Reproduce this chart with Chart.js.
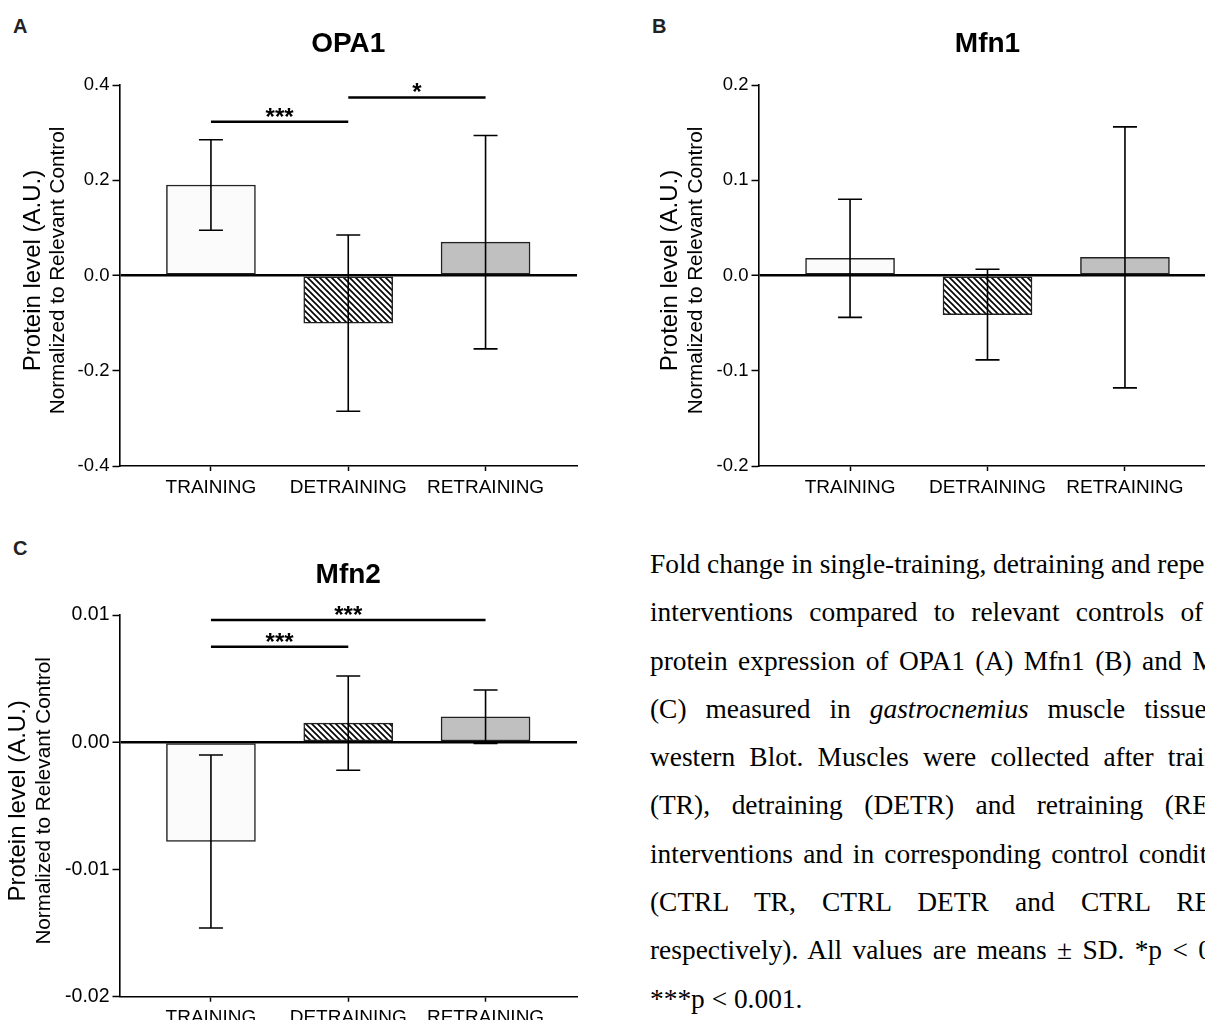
<!DOCTYPE html>
<html>
<head>
<meta charset="utf-8">
<title>OPA1 / Mfn1 / Mfn2</title>
<script src="https://cdn.jsdelivr.net/npm/chart.js@4.4.1/dist/chart.umd.min.js"></script>
<style>
  html, body { margin: 0; padding: 0; background: #fff; }
  body { width: 1205px; height: 1020px; overflow: hidden; position: relative;
         font-family: 'Liberation Sans', Arial, sans-serif; }
  canvas { position: absolute; }
  .letter { position: absolute; font-weight: bold; font-size: 20px; line-height: 20px; color: #222; }
  #caption { position: absolute; left: 650px; top: 540px; width: 603px;
             font-family: 'Liberation Serif', 'Times New Roman', serif;
             font-size: 27.4px; line-height: 48.3px; color: #000; }
  #caption div { text-align: justify; text-align-last: justify; }
  #caption div.ov { white-space: nowrap; }
  #caption div.last { text-align: left; text-align-last: left; }
</style>
</head>
<body>

<div class="letter" style="left:13px; top:16px;">A</div>
<div class="letter" style="left:652px; top:16px;">B</div>
<div class="letter" style="left:13px; top:538px;">C</div>

<canvas id="opa1" width="600" height="520" style="left:0; top:0;"></canvas>
<canvas id="mfn1" width="640" height="520" style="left:600px; top:0;"></canvas>
<canvas id="mfn2" width="600" height="520" style="left:0; top:520px;"></canvas>

<div id="caption">
  <div class="ov">Fold change in single-training, detraining and repeated-training</div>
  <div>interventions compared to relevant controls of the</div>
  <div>protein expression of OPA1 (A) Mfn1 (B) and Mfn2</div>
  <div>(C) measured in <i>gastrocnemius</i> muscle tissue by</div>
  <div>western Blot. Muscles were collected after training</div>
  <div>(TR), detraining (DETR) and retraining (RETR)</div>
  <div>interventions and in corresponding control conditions</div>
  <div>(CTRL TR, CTRL DETR and CTRL RETR,</div>
  <div>respectively). All values are means ± SD. *p &lt; 0.05,</div>
  <div class="last">***p &lt; 0.001.</div>
</div>

<script>
var categories = ['TRAINING', 'DETRAINING', 'RETRAINING'];

// means and SD
var opa1Means = [0.19, -0.10, 0.07];
var opa1Sd = [0.095, 0.185, 0.224];
var mfn1Means = [0.018, -0.041, 0.019];
var mfn1Sd = [0.062, 0.0476, 0.137];
var mfn2Means = [-0.0078, 0.0015, 0.002];
var mfn2Sd = [0.0068, 0.0037, 0.0021];

// y ticks
var opa1Ticks = [-0.4, -0.2, 0, 0.2, 0.4];
var mfn1Ticks = [-0.2, -0.1, 0, 0.1, 0.2];
var mfn2Ticks = [-0.02, -0.01, 0, 0.01];

// significance bars: [from, to, height, stars]
var opa1Sig = [[0, 1, 0.323, '***'], [1, 2, 0.374, '*']];
var mfn1Sig = [];
var mfn2Sig = [[0, 1, 0.0075, '***'], [0, 2, 0.0096, '***']];

Chart.defaults.font.family = "'Liberation Sans', Arial, sans-serif";
Chart.defaults.color = '#000';

function hatch() {
    var c = document.createElement('canvas');
    c.width = 6; c.height = 6;
    var g = c.getContext('2d');
    g.fillStyle = '#fff';
    g.fillRect(0, 0, 6, 6);
    g.strokeStyle = '#000';
    g.lineWidth = 1.6;
    g.beginPath();
    g.moveTo(-1, -1); g.lineTo(7, 7);
    g.moveTo(-1, 5); g.lineTo(1, 7);
    g.moveTo(5, -1); g.lineTo(7, 1);
    g.stroke();
    return g.createPattern(c, 'repeat');
}

function fmt(v, dec) {
    if (Math.abs(v) < 1e-12) v = 0;
    return v.toFixed(dec);
}

function makeChart(id, cfg) {
    var decor = {
        id: 'decor',
        afterDatasetsDraw: function(chart) {
            var ctx = chart.ctx, a = chart.chartArea;
            var xs = chart.scales.x, ys = chart.scales.y;
            ctx.save();
            // error bars
            ctx.strokeStyle = '#000';
            ctx.lineWidth = 1.6;
            cfg.means.forEach(function(m, i) {
                var x = xs.getPixelForValue(i);
                var t = ys.getPixelForValue(m + cfg.sd[i]);
                var b = ys.getPixelForValue(m - cfg.sd[i]);
                ctx.beginPath();
                ctx.moveTo(x, t); ctx.lineTo(x, b);
                ctx.moveTo(x - 12, t); ctx.lineTo(x + 12, t);
                ctx.moveTo(x - 12, b); ctx.lineTo(x + 12, b);
                ctx.stroke();
            });
            // significance
            ctx.lineWidth = 2.5;
            ctx.font = 'bold 24px ' + Chart.defaults.font.family;
            ctx.textAlign = 'center';
            ctx.textBaseline = 'alphabetic';
            ctx.fillStyle = '#000';
            cfg.sig.forEach(function(s) {
                var x1 = xs.getPixelForValue(s[0]), x2 = xs.getPixelForValue(s[1]);
                var y = ys.getPixelForValue(s[2]);
                ctx.beginPath();
                ctx.moveTo(x1, y); ctx.lineTo(x2, y);
                ctx.stroke();
                ctx.fillText(s[3], (x1 + x2) / 2, y + 3);
            });
            // title
            ctx.font = 'bold 28px ' + Chart.defaults.font.family;
            ctx.fillText(cfg.title, (a.left + a.right) / 2, cfg.titleY);
            // y axis titles
            var yc = (a.top + a.bottom) / 2 - 5;
            ctx.textBaseline = 'middle';
            ctx.save();
            ctx.translate(cfg.t1x, yc);
            ctx.rotate(-Math.PI / 2);
            ctx.font = '24px ' + Chart.defaults.font.family;
            ctx.fillText('Protein level (A.U.)', 0, 0);
            ctx.restore();
            ctx.save();
            ctx.translate(cfg.t2x, yc);
            ctx.rotate(-Math.PI / 2);
            ctx.font = '20.7px ' + Chart.defaults.font.family;
            ctx.fillText('Normalized to Relevant Control', 0, 0);
            ctx.restore();
            ctx.restore();
        }
    };

    var canvas = document.getElementById(id);
    return new Chart(canvas.getContext('2d'), {
        type: 'bar',
        data: {
            datasets: [{
                data: cfg.means.map(function(v, i) { return { x: i, y: v }; }),
                backgroundColor: ['#fbfbfb', hatch(), '#c0c0c0'],
                borderColor: '#222',
                borderWidth: 1.5,
                borderSkipped: false,
                barThickness: 89
            }]
        },
        options: {
            responsive: false,
            animation: false,
            events: [],
            layout: { padding: { left: 0, right: canvas.width - cfg.right, top: cfg.top, bottom: 0 } },
            plugins: {
                legend: { display: false },
                tooltip: { enabled: false },
                title: { display: false }
            },
            scales: {
                x: {
                    type: 'linear',
                    offset: false,
                    min: -0.666,
                    max: 2.666,
                    afterBuildTicks: function(s) {
                        s.ticks = categories.map(function(c, i) { return { value: i }; });
                    },
                    afterFit: function(s) { s.height = canvas.height - cfg.bottom; },
                    border: { display: true, color: '#000', width: 1.6 },
                    grid: { display: true, offset: false, drawOnChartArea: false, drawTicks: true,
                            tickLength: 5, tickColor: '#000', tickWidth: 1.5 },
                    ticks: {
                        callback: function(v) { return categories[v]; },
                        font: { size: 19 },
                        color: '#000',
                        padding: 5,
                        maxRotation: 0,
                        autoSkip: false
                    }
                },
                y: {
                    min: cfg.ticks[0],
                    max: cfg.ticks[cfg.ticks.length - 1],
                    afterBuildTicks: function(s) {
                        s.ticks = cfg.ticks.map(function(v) { return { value: v }; });
                    },
                    afterFit: function(s) { s.width = cfg.left; },
                    border: { display: true, color: '#000', width: 1.6 },
                    grid: {
                        color: function(c) { return c.tick && Math.abs(c.tick.value) < 1e-12 ? '#000' : 'rgba(0,0,0,0)'; },
                        lineWidth: function(c) { return c.tick && Math.abs(c.tick.value) < 1e-12 ? 2.5 : 1; },
                        tickColor: '#000',
                        tickWidth: 1.5,
                        tickLength: 7,
                        drawTicks: true
                    },
                    ticks: {
                        callback: function(v) { return fmt(v, cfg.dec); },
                        font: { size: cfg.tickSize },
                        color: '#000',
                        padding: 3
                    }
                }
            }
        },
        plugins: [decor]
    });
}

makeChart('opa1', {
    title: 'OPA1', means: opa1Means, sd: opa1Sd, ticks: opa1Ticks, sig: opa1Sig, dec: 1, tickSize: 18.5,
    left: 119.5, right: 577, top: 85, bottom: 466, titleY: 52, t1x: 33, t2x: 58.3
});
makeChart('mfn1', {
    title: 'Mfn1', means: mfn1Means, sd: mfn1Sd, ticks: mfn1Ticks, sig: mfn1Sig, dec: 1, tickSize: 18.5,
    left: 158.5, right: 616.5, top: 85, bottom: 466, titleY: 52, t1x: 70, t2x: 96.5
});
makeChart('mfn2', {
    title: 'Mfn2', means: mfn2Means, sd: mfn2Sd, ticks: mfn2Ticks, sig: mfn2Sig, dec: 2, tickSize: 19.5,
    left: 119.5, right: 577, top: 95, bottom: 476.7, titleY: 63, t1x: 18.2, t2x: 44
});
</script>
</body>
</html>
